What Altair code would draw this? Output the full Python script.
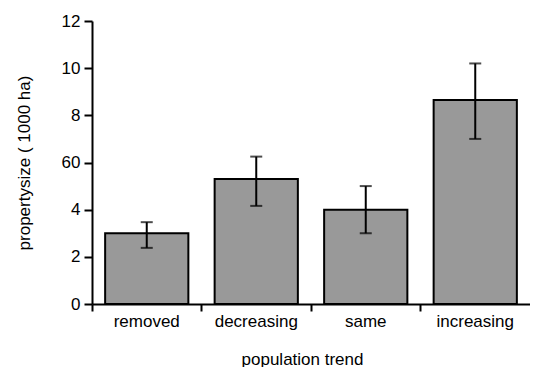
import altair as alt
import pandas as pd

categories = ["removed", "decreasing", "same", "increasing"]
means = [3.0, 5.3, 4.0, 8.65]
upper = [3.47, 6.25, 5.0, 10.2]
lower = [2.38, 4.16, 3.0, 7.0]
y_ticks = [0, 2, 4, 6, 8, 10, 12]
y_tick_labels = ["0", "2", "4", "60", "8", "10", "12"]

df = pd.DataFrame({"trend": categories, "mean": means, "hi": upper, "lo": lower})

FONT = "Liberation Sans"
FS = 17

label_expr = "datum.label"
for v, l in zip(y_ticks, y_tick_labels):
    if str(v) != l:
        label_expr = f"datum.value == {v} ? '{l}' : (" + label_expr + ")"

x_enc = alt.X(
    "trend:N",
    sort=categories,
    scale=alt.Scale(paddingInner=0, paddingOuter=0),
    axis=alt.Axis(
        title="population trend",
        bandPosition=0,
        labelAngle=0,
        labelPadding=2,
        tickSize=7,
        titlePadding=22,
        titleX=210,
    ),
)
y_scale = alt.Scale(domain=[0, 12], nice=False, zero=True)

bars = alt.Chart(df).mark_bar(
    width=alt.RelativeBandSize(0.76), fill="#999999", stroke="black", strokeWidth=2
).encode(
    x=x_enc,
    y=alt.Y(
        "mean:Q",
        scale=y_scale,
        axis=alt.Axis(
            title="propertysize ( 1000 ha)",
            values=y_ticks,
            labelExpr=label_expr,
            tickSize=8,
            labelPadding=4,
            titlePadding=28,
        ),
    ),
)

rules = alt.Chart(df).mark_rule(color="black", strokeWidth=2).encode(
    x=x_enc, y=alt.Y("lo:Q", scale=y_scale), y2="hi:Q"
)
caps_hi = alt.Chart(df).mark_tick(color="black", size=12, thickness=2).encode(
    x=x_enc, y=alt.Y("hi:Q", scale=y_scale)
)
caps_lo = alt.Chart(df).mark_tick(color="black", size=12, thickness=2).encode(
    x=x_enc, y=alt.Y("lo:Q", scale=y_scale)
)

chart = (
    alt.layer(bars, rules, caps_hi, caps_lo)
    .properties(width=438, height=283, padding={"left": 7, "top": 4, "right": 0, "bottom": 0})
    .configure_view(stroke=None)
    .configure_axis(
        grid=False,
        domainColor="black",
        domainWidth=2,
        tickColor="black",
        tickWidth=2,
        labelColor="black",
        titleColor="black",
        labelFont=FONT,
        titleFont=FONT,
        labelFontSize=FS,
        titleFontSize=FS,
        titleFontWeight="normal",
    )
)

chart.save("out.html", embed_options={"renderer": "svg", "actions": False})
